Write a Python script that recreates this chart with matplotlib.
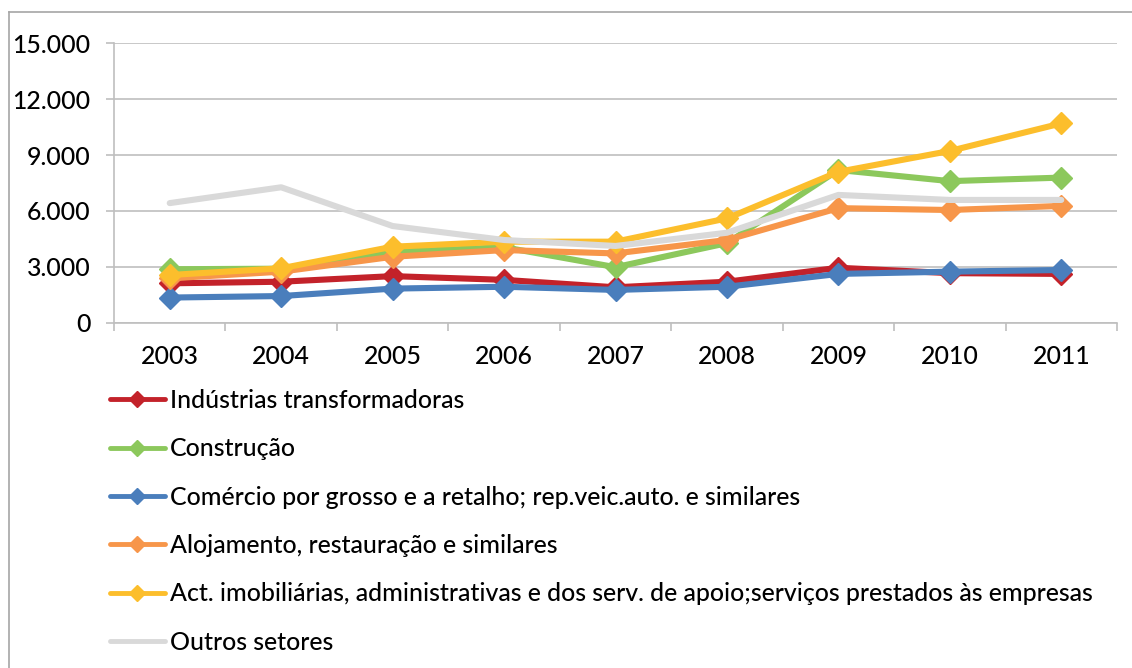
import matplotlib
matplotlib.use("Agg")
import matplotlib.pyplot as plt
from matplotlib.lines import Line2D
from matplotlib.ticker import FuncFormatter

plt.rcParams['font.family'] = ['Lato', 'DejaVu Sans']
plt.rcParams['font.weight'] = 'medium'

years = ['2003', '2004', '2005', '2006', '2007', '2008', '2009', '2010', '2011']

industrias = [2115, 2200, 2500, 2300, 1900, 2200, 2950, 2660, 2620]
construcao = [2870, 2900, 3800, 4050, 2980, 4270, 8200, 7600, 7790]
comercio = [1350, 1430, 1830, 1930, 1760, 1930, 2620, 2740, 2830]
alojamento = [2380, 2740, 3540, 3900, 3720, 4440, 6150, 6050, 6270]
imobiliarias = [2560, 2920, 4080, 4350, 4350, 5600, 8100, 9220, 10700]
outros = [6420, 7270, 5190, 4440, 4120, 4830, 6860, 6590, 6590]

labels = [
    'Indústrias transformadoras',
    'Construção',
    'Comércio por grosso e a retalho; rep.veic.auto. e similares',
    'Alojamento, restauração e similares',
    'Act. imobiliárias, administrativas e dos serv. de apoio;serviços prestados às empresas',
    'Outros setores',
]
colors = ['#C3222A', '#8CC85C', '#4A7EBC', '#F7964A', '#FCBE2C', '#D9D9D9']
series = [industrias, construcao, comercio, alojamento, imobiliarias, outros]

fs = 17.9

fig = plt.figure(figsize=(11.32, 6.68), dpi=100)
ax = fig.add_axes([114 / 1132, 1 - 322.7 / 668, (1117 - 114) / 1132, (322.7 - 43.3) / 668])

x = range(len(years))
handles = []
for vals, lab, col in zip(series, labels, colors):
    has_marker = lab != 'Outros setores'
    ax.plot(x, vals, color=col, lw=4.4, solid_capstyle='round',
            marker='D' if has_marker else None, ms=11, mec=col, mfc=col)
    handles.append(Line2D([], [], color=col, lw=3.5, solid_capstyle='round',
                          marker='D' if has_marker else None, ms=8.5, mec=col, mfc=col))

grid_col = '#BFBFBF'
ax.set_ylim(0, 15000)
ax.set_yticks(range(0, 15001, 3000))
ax.yaxis.set_major_formatter(FuncFormatter(lambda v, p: f'{int(v):,}'.replace(',', '.')))
ax.set_xlim(-0.5, len(years) - 0.5)
ax.set_xticks(list(x))
ax.set_xticklabels(years)
ax.set_xticks([i - 0.5 for i in range(len(years) + 1)], minor=True)
ax.tick_params(axis='x', which='major', length=0, pad=16, labelsize=fs)
ax.tick_params(axis='x', which='minor', length=6, color=grid_col, width=1.2, direction='out')
ax.tick_params(axis='y', length=6, color=grid_col, width=1.2, labelsize=fs, pad=11)
ax.grid(axis='y', color=grid_col, lw=1.2)
ax.set_axisbelow(True)
for s in ['top', 'right']:
    ax.spines[s].set_visible(False)
for s in ['left', 'bottom']:
    ax.spines[s].set_color(grid_col)
    ax.spines[s].set_linewidth(1.2)

fig.legend(handles, labels, loc='upper left', bbox_to_anchor=(110 / 1132, 1 - 389 / 668),
           frameon=False, fontsize=fs, handlelength=2.2, handletextpad=0.2,
           labelspacing=1.02, borderaxespad=0, borderpad=0)

# outer chart frame
fig.add_artist(Line2D([9 / 1132, 9 / 1132], [0, 1 - 12 / 668], color='#A6A6A6', lw=1.2))
fig.add_artist(Line2D([9 / 1132, 1], [1 - 12 / 668, 1 - 12 / 668], color='#A6A6A6', lw=1.2))

fig.savefig('out.png', dpi=100, facecolor='white')
